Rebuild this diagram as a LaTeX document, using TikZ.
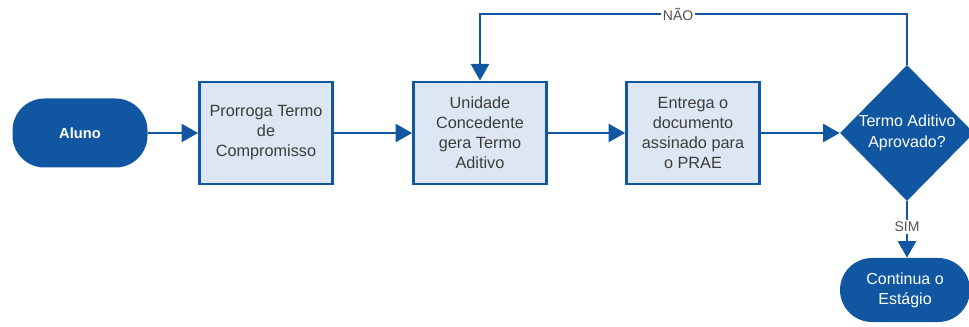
\documentclass[tikz,border=0pt]{standalone}
\usepackage{fontspec}
\setmainfont{Liberation Sans}
\usetikzlibrary{shapes.geometric,arrows.meta}

\definecolor{flowblue}{RGB}{16,86,160}
\definecolor{boxfill}{RGB}{221,231,243}
\definecolor{boxtext}{RGB}{60,60,60}
\definecolor{labeltext}{RGB}{80,80,80}

\tikzset{
  terminal/.style={draw=none, fill=flowblue, text=white, rounded corners=24pt,
    align=center, inner sep=0pt},
  process/.style={draw=flowblue, line width=2pt, fill=boxfill, text=boxtext,
    minimum width=133*0.75pt, minimum height=102*0.75pt, align=center,
    inner sep=0pt, font=\fontsize{12.2}{15}\selectfont},
  decision/.style={diamond, draw=none, fill=flowblue, inner sep=0pt,
    minimum width=134*0.75pt, minimum height=136*0.75pt},
  flow/.style={draw=flowblue, line width=1.9pt,
    -{Triangle[length=12.5pt,width=13.5pt]}},
  edgelabel/.style={fill=white, text=labeltext, inner sep=1.5pt,
    font=\fontsize{10.5}{12}\selectfont}
}

\begin{document}
\begin{tikzpicture}[x=0.75pt,y=-0.75pt]
  \useasboundingbox (0,0) rectangle (969,327);

  \node[terminal, minimum width=135*0.75pt, minimum height=69*0.75pt,
        font=\bfseries\fontsize{11}{13}\selectfont] (aluno) at (80,133) {Aluno};
  \node[process] (prorroga) at (266,133) {Prorroga Termo\\de\\Compromisso};
  \node[process] (unidade) at (480,133) {Unidade\\Concedente\\gera Termo\\Aditivo};
  \node[process] (entrega) at (693,133) {Entrega o\\documento\\assinado para\\o PRAE};
  \node[decision] (decisao) at (907,133) {};
  \node[text=white, align=center, font=\fontsize{12}{15.5}\selectfont]
       (decisaotxt) at (decisao.center) {Termo Aditivo\\Aprovado?};
  \node[terminal, minimum width=130*0.75pt, minimum height=64*0.75pt,
        font=\fontsize{12}{15}\selectfont] (continua) at (905,290) {Continua o\\Estágio};

  \draw[flow] (aluno) -- (prorroga);
  \draw[flow] (prorroga) -- (unidade);
  \draw[flow] (unidade) -- (entrega);
  \draw[flow] (entrega) -- (decisao.west);
  \draw[flow] (decisao.north) -- (decisao.north |- 0,14)
    -- node[edgelabel, pos=0.536] {NÃO} (unidade.north |- 0,14)
    -- (unidade.north);
  \draw[flow] (decisao.south) -- node[edgelabel, pos=0.45] {SIM} (decisao.south |- continua.north);
\end{tikzpicture}
\end{document}
